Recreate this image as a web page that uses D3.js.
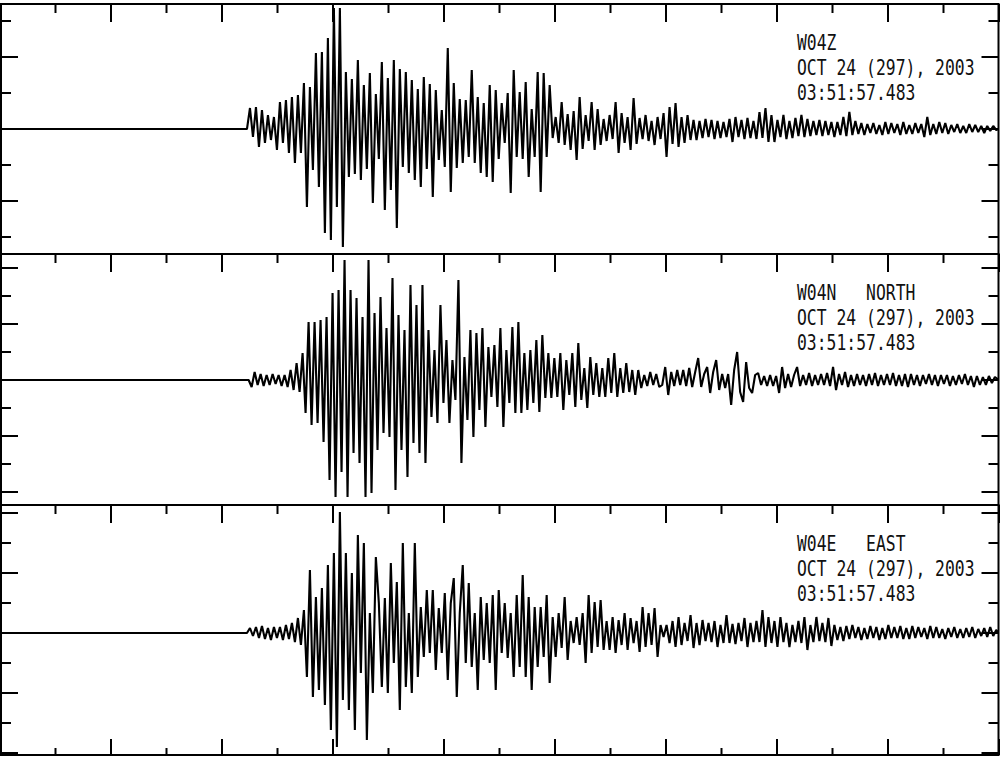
<!DOCTYPE html>
<html><head><meta charset="utf-8">
<script src="https://cdn.jsdelivr.net/npm/d3@7"></script>
<style>html,body{margin:0;padding:0;background:#fff;} svg{display:block;} text{white-space:pre;}</style>
</head><body><svg id="c" width="1002" height="760"></svg>
<script>
// ---------- data ----------
const stationLabels = ["W04Z", "W04N   NORTH", "W04E   EAST"];
const dateLabel = "OCT 24 (297), 2003";
const timeLabel = "03:51:57.483";
const timeDomain = [0, 90];          // seconds across the plot
const xMinorStep = 5, xMajorStep = 10;
const yTickStep = [36, 28, 30];      // amplitude tick interval per trace
const onsetSec = [22.25, 22.4, 22.25];
const sampleSec = 0.27;

const traceZ = [
 0,21,-8,22,-18,19,-14,14,-11,12,
 -21,27,-14,29,-24,32,-34,34,-24,46,
 -78,42,-41,76,-58,77,-104,91,-111,121,
 -78,121,-118,57,-48,50,-45,69,-51,44,
 -40,56,-74,35,-30,67,-81,51,-61,69,
 -99,60,-38,57,-44,49,-51,40,-58,52,
 -40,45,-68,39,-31,19,-38,81,-63,46,
 -39,30,-34,29,-28,59,-34,32,-44,26,
 -48,44,-53,39,-30,26,-14,36,-64,59,
 -28,37,-30,47,-48,20,-28,57,-63,56,
 -28,44,-9,12,-14,27,-16,15,-21,18,
 -31,32,-20,14,-12,27,-21,20,-16,10,
 -12,14,-10,27,-24,16,-14,12,-21,31,
 -15,11,-10,14,-12,8,-16,12,-10,16,
 -28,22,-15,26,-18,12,-14,14,-11,9,
 -11,8,-9,10,-8,9,-10,8,-9,7,
 -8,10,-13,12,-8,9,-10,11,-9,8,
 -10,17,-9,21,-13,14,-13,9,-8,14,
 -10,8,-9,11,-7,14,-8,10,-7,8,
 -6,9,-7,8,-6,7,-8,7,-6,12,
 -7,17,-6,8,-5,6,-6,5,-4,6,
 -5,4,-6,7,-5,6,-4,5,-6,7,
 -5,4,-5,6,-4,5,-8,12,-6,5,
 -5,7,-4,6,-5,4,-3,5,-4,3,
 -4,5,-3,4,-3,3,-4,3,-2,3,
 -1
];
const traceN = [
 0,-7,8,-5,6,-6,5,-5,6,-4,
 5,-6,5,-7,10,-10,17,-12,27,-33,
 58,-45,58,-43,60,-62,63,-100,87,-117,
 90,-92,120,-117,90,-73,82,-83,63,-117,
 120,-113,67,-70,83,-53,52,-57,102,-110,
 65,-70,50,-97,95,-63,75,-73,95,-83,
 50,-37,30,-43,75,-23,40,-43,20,-20,
 100,-83,23,-40,50,-57,47,-30,52,-47,
 33,-17,35,-27,52,-47,30,-23,53,-33,
 58,-33,27,-30,30,-23,40,-32,45,-18,
 27,-18,22,-17,27,-30,20,-15,27,-27,
 37,-20,12,-28,23,-15,17,-17,12,-17,
 22,-13,27,-17,12,-13,17,-12,10,-15,
 10,-8,5,-6,8,-5,6,-7,-5,13,
 -15,8,-6,10,-5,10,-6,12,-7,8,
 22,-7,6,13,-13,8,20,-10,6,-8,
 6,-25,10,28,-12,-22,18,-8,-13,5,
 7,-5,4,-6,5,-6,4,-13,13,-8,
 6,-7,5,13,-6,5,-5,7,-6,5,
 -5,6,-5,7,-6,13,-10,6,-5,8,
 -7,5,-6,6,-5,5,-6,6,-5,7,
 -6,5,-5,6,-5,7,-6,5,-6,6,
 -7,6,-5,5,-6,5,-4,6,-5,5,
 -6,5,-4,5,-6,4,-5,5,-4,6,
 -5,4,-7,4,-5,3,-5,4,-3,3
];
const traceE = [
 0,5,-3,6,-5,7,-6,5,-7,6,
 -5,6,-7,8,-6,10,-9,15,-12,23,
 -44,63,-64,36,-57,45,-72,68,-97,80,
 -114,121,-67,80,-77,60,-97,98,-40,90,
 -107,20,-60,76,30,-54,35,-60,70,-30,
 51,-77,90,-54,20,-60,90,-44,26,-24,
 43,-20,43,-37,25,-20,40,-47,30,55,
 -64,20,68,-30,50,-34,20,-57,36,-27,
 30,-30,38,-57,43,-20,30,-25,20,-44,
 38,-34,58,-44,36,-57,26,-34,26,-24,
 38,-50,16,-24,20,-15,36,-27,12,-10,
 16,-12,20,-30,38,-20,31,-14,33,-17,
 12,-17,16,-20,13,-12,20,-17,15,-10,
 12,-19,26,-14,20,-12,25,-24,8,-4,
 8,-10,12,-14,16,-12,10,-8,18,-15,
 10,-12,13,-8,10,-9,12,-14,8,-10,
 18,-10,9,-11,10,-8,15,-14,10,-9,
 12,-9,23,-14,16,-10,12,-14,16,-9,
 10,-14,8,-9,12,-10,16,-17,8,-9,
 16,-8,10,-9,15,-13,8,-7,6,-8,
 7,-6,8,-5,6,-7,5,-6,7,-5,
 6,-7,5,-6,8,-5,6,-5,7,-6,
 5,-6,7,-5,6,-4,5,-6,7,-5,
 6,-5,4,-6,5,-4,6,-5,4,-5,
 5,-4,6,-5,4,-3,5,-4,6,-3,
 3
];
const traces = [traceZ, traceN, traceE];

// ---------- layout ----------
const panels = [
  {top: 4,   bottom: 254, center: 129},
  {top: 254, bottom: 505, center: 380},
  {top: 505, bottom: 755, center: 633}
];
const xLeft = 1, xRight = 998.5;
const svg = d3.select("#c");
const x = d3.scaleLinear().domain(timeDomain).range([0, 999]);

const xTicks = d3.range(timeDomain[0], timeDomain[1] + 0.001, xMinorStep);

panels.forEach((p, k) => {
  const y = d3.scaleLinear()
    .domain([-(p.bottom - p.center), p.center - p.top])
    .range([p.bottom, p.top]);
  const g = svg.append("g");

  const clipId = "clip" + k;
  svg.append("clipPath").attr("id", clipId)
    .append("rect").attr("x", xLeft).attr("y", p.top)
    .attr("width", xRight - xLeft).attr("height", p.bottom - p.top);

  // trace
  const vals = traces[k];
  const pts = [[timeDomain[0], 0]];
  vals.forEach((v, i) => pts.push([onsetSec[k] + i * sampleSec, v]));
  pts.push([timeDomain[1], 0]);
  const line = d3.line().x(d => x(d[0])).y(d => y(d[1])).curve(d3.curveLinear);
  g.append("path").datum(pts).attr("d", line)
    .attr("clip-path", `url(#${clipId})`)
    .attr("fill", "none").attr("stroke", "#000")
    .attr("stroke-width", 2.1).attr("stroke-linejoin", "bevel");

  // top x ticks
  xTicks.forEach(t => {
    const major = Math.abs(t / xMajorStep - Math.round(t / xMajorStep)) < 1e-6;
    const len = major ? 18 : 9;
    g.append("line").attr("x1", x(t)).attr("x2", x(t))
      .attr("y1", p.top).attr("y2", p.top + len)
      .attr("stroke", "#000").attr("stroke-width", 2);
    if (k === panels.length - 1) {
      const lb = major ? 16 : 7;
      g.append("line").attr("x1", x(t)).attr("x2", x(t))
        .attr("y1", p.bottom).attr("y2", p.bottom - lb)
        .attr("stroke", "#000").attr("stroke-width", 2);
    }
  });

  // y ticks left & right
  const step = yTickStep[k];
  const [d0, d1] = y.domain();
  for (let n = Math.ceil(d0 / step); n <= Math.floor(d1 / step); n++) {
    const v = n * step;
    const yy = y(v);
    if (yy > p.bottom - 1.5 || yy < p.top + 1.5) continue;
    const len = (n % 2 === 0) ? 17 : 10;
    g.append("line").attr("x1", xLeft).attr("x2", xLeft + len)
      .attr("y1", yy).attr("y2", yy).attr("stroke", "#000").attr("stroke-width", 2);
    g.append("line").attr("x1", xRight).attr("x2", xRight - len)
      .attr("y1", yy).attr("y2", yy).attr("stroke", "#000").attr("stroke-width", 2);
  }

  // frame
  g.append("rect").attr("x", xLeft).attr("y", p.top)
    .attr("width", xRight - xLeft).attr("height", p.bottom - p.top)
    .attr("fill", "none").attr("stroke", "#000").attr("stroke-width", 2);

  // labels
  const lines = [stationLabels[k], dateLabel, timeLabel];
  lines.forEach((s, j) => {
    g.append("text")
      .attr("transform", `translate(797,${p.top + 46 + j * 25}) scale(1,1.32)`)
      .attr("font-family", "DejaVu Sans Mono, monospace")
      .attr("font-size", 16.4)
      .attr("fill", "#111")
      .text(s);
  });
});
</script>
</body></html>
